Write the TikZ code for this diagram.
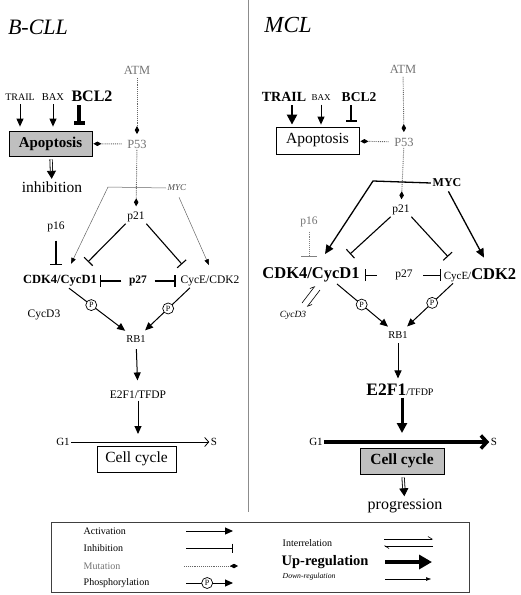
\documentclass[tikz,border=0pt]{standalone}
\usepackage{fontspec}
\setmainfont{Liberation Serif}
\usetikzlibrary{arrows.meta,positioning}
\newcommand\fsz[1]{\fontsize{#1}{#1}\selectfont}

\begin{document}
\begin{tikzpicture}[x=1pt, y=-1pt,
  every node/.style={inner sep=1.5pt, font=\fsz{11}},
  gtxt/.style={text=black!55, font=\fsz{12.5}},
  cbox/.style={draw, line width=0.8pt, inner sep=0pt},
  act/.style={line width=1pt, -{Triangle[length=8pt,width=7pt]}},
  actthin/.style={line width=0.5pt, black!60, -{Triangle[length=6pt,width=4.5pt,color=black]}},
  actmyc/.style={line width=1.3pt, -{Triangle[length=9pt,width=8pt]}},
  actbig/.style={line width=2.2pt, -{Triangle[length=10pt,width=10pt]}},
  inh/.style={line width=1.1pt, -{Bar[width=12pt]}},
  inhthick/.style={line width=1.8pt, -{Bar[width=12pt]}},
  mut/.style={densely dotted, black!60, line width=0.9pt,
              -{Diamond[length=8pt,width=4.5pt,color=black]}},
  mutinh/.style={densely dotted, black!50, line width=0.9pt, -{Bar[width=16pt]}},
  dbl/.style={double, double distance=1.6pt, line width=0.8pt,
              -{Triangle[length=8pt,width=9pt]}},
  pcirc/.style={circle, draw, fill=white, line width=0.7pt, inner sep=0.6pt,
                minimum size=11pt, font=\fsz{8}},
  harp/.style={line width=0.6pt, -{Straight Barb[harpoon,length=4pt,width=5pt]}},
  upreg/.style={line width=4pt, -{Triangle[length=13pt,width=14pt]}},
  downreg/.style={line width=0.6pt, -{Triangle[length=5pt,width=3.5pt]}},
  gsthin/.style={line width=0.8pt, -{Straight Barb[length=4pt,width=9pt]}},
  gsthick/.style={line width=3.5pt, -{Straight Barb[length=6pt,width=13pt]}},
  lgtxt/.style={anchor=west, font=\fsz{10}},
]
\useasboundingbox (0,0) rectangle (520,595);

% divider between the two panels
\coordinate (divtop) at (248,0);
\coordinate (divbot) at (248,512);
\draw[black!45, line width=0.8pt] (divtop) -- (divbot);

%%%% B-CLL
\node[font=\fsz{22}\itshape] (titlel) at (38,27) {B-CLL};
\node[gtxt] (atml) at (137,70) {ATM};
\node[gtxt] (p53l) at (137,144) {P53};
\node[font=\fsz{10}] (traill) at (20,97) {TRAIL};
\node[font=\fsz{10.5}] (baxl) at (53,97) {BAX};
\node[font=\fsz{16}\bfseries] (bcl2l) at (92,96) {BCL2};
\node[cbox, fill=black!25, minimum width=83, minimum height=25,
      font=\fsz{15}\bfseries] (apol) at (50.5,143.5) {Apoptosis};
\node[font=\fsz{15.5}] (inhibl) at (52,187) {inhibition};
\node[font=\fsz{9}\itshape, text=black!70] (mycl) at (177,188) {MYC};
\coordinate (mycbendl) at (108,187);
\node[font=\fsz{11.5}] (p21l) at (136,217) {p21};
\node[font=\fsz{11.5}] (p16l) at (56,227) {p16};
\node[font=\fsz{12.5}\bfseries] (cdk4l) at (60,281) {CDK4/CycD1};
\node[font=\fsz{11.5}\bfseries] (p27l) at (138,281) {p27};
\node[font=\fsz{11.5}] (cycel) at (210,281) {CycE/CDK2};
\node[font=\fsz{11.5}] (cycd3l) at (44,315) {CycD3};
\node[font=\fsz{10.5}] (rb1l) at (136,339) {RB1};
\node[font=\fsz{11.5}] (e2f1l) at (138,395) {E2F1/TFDP};
\node[font=\fsz{11}] (g1l) at (63,442) {G1};
\node[font=\fsz{11}] (sl) at (214,442) {S};
\node[cbox, fill=white, minimum width=79, minimum height=26,
      font=\fsz{15.5}] (ccl) at (136.5,459) {Cell cycle};

\draw[mut, shorten <=2pt, shorten >=4pt] (atml) -- (p53l);
\draw[mut, shorten <=4pt, shorten >=1pt] (p53l) -- (apol);
\draw[mut, shorten >=4pt] (p53l) -- (p21l);
\draw[act, shorten <=2pt, shorten >=4pt] (traill.south) -- (traill.south |- apol.north);
\draw[act, shorten <=2pt, shorten >=4pt] (baxl.south) -- (baxl.south |- apol.north);
\draw[line width=3.5pt, -{Bar[width=11pt]}, shorten <=2pt, shorten >=6pt]
  ([xshift=-13pt]bcl2l.south) -- ([xshift=-13pt]bcl2l.south |- apol.north);
\draw[dbl, shorten <=3pt, shorten >=1pt] (apol) -- (inhibl);
\draw[actthin] (mycl.west) -- (mycbendl) -- ([shift={(11pt,10pt)}]cdk4l.north);
\draw[actthin, shorten <=5pt] (mycl.south) -- ([shift={(-1pt,9pt)}]cycel.north);
\draw[inh] (p21l.south west) -- ([shift={(28pt,12pt)}]cdk4l.north);
\draw[inh] (p21l.south east) -- ([shift={(-28pt,10pt)}]cycel.north);
\draw[inh, shorten <=7pt] (p16l.south) -- ([yshift=9pt]p16l.south |- cdk4l.north);
\draw[inhthick, shorten <=6pt, shorten >=1pt] (p27l) -- (cdk4l);
\draw[inhthick, shorten <=6pt, shorten >=3pt] (p27l) -- (cycel);
\draw[act, shorten >=5pt] ([xshift=9pt]cdk4l.south) -- node[pcirc, pos=0.37] {P} (rb1l);
\draw[act, shorten >=5pt] ([xshift=-20pt]cycel.south) -- node[pcirc, pos=0.45] {P} (rb1l);
\draw[act, shorten <=5pt, shorten >=9pt] (rb1l) -- (e2f1l);
\draw[act, shorten >=8pt] (e2f1l) -- (e2f1l |- g1l);
\draw[gsthin] (g1l) -- (sl);

%%%% MCL
\node[font=\fsz{23}\itshape] (titler) at (288,25) {MCL};
\node[gtxt] (atmr) at (403,69) {ATM};
\node[gtxt] (p53r) at (404,142) {P53};
\node[font=\fsz{14}\bfseries] (trailr) at (284,97) {TRAIL};
\node[font=\fsz{9}] (baxr) at (321,98) {BAX};
\node[font=\fsz{13.5}\bfseries] (bcl2r) at (359,97) {BCL2};
\node[cbox, fill=white, minimum width=83, minimum height=27,
      font=\fsz{15.5}] (apor) at (317.5,140.5) {Apoptosis};
\node[font=\fsz{12}\bfseries] (mycr) at (447,183) {MYC};
\coordinate (mycbendr) at (373,181);
\node[font=\fsz{11.5}] (p21r) at (401,210) {p21};
\node[gtxt, font=\fsz{11.5}] (p16r) at (309,222) {p16};
\node[font=\fsz{16.5}\bfseries] (cdk4r) at (311,275) {CDK4/CycD1};
\node[font=\fsz{11.5}] (p27r) at (404,275) {p27};
\node (cycer) at (480,275) {\fsz{11}CycE/\fsz{16.5}\bfseries CDK2};
\node[font=\fsz{9.5}\itshape] (cycd3r) at (293,315) {CycD3};
\node[font=\fsz{10.5}] (rb1r) at (398,335) {RB1};
\node (e2f1r) at (400,390) {\fsz{17.5}\bfseries E2F1\fsz{10}\mdseries/TFDP};
\node[font=\fsz{11}] (g1r) at (316,442) {G1};
\node[font=\fsz{11}] (sr) at (494,442) {S};
\node[cbox, fill=black!25, minimum width=84, minimum height=26,
      font=\fsz{15.5}\bfseries] (ccr) at (402,461) {Cell cycle};
\node[font=\fsz{16}] (progr) at (405,506) {progression};

% interrelation arrows beside CDK4/CycD1
\coordinate (irA) at (302,303);
\coordinate (irB) at (315,286);
\coordinate (irC) at (320,290);
\coordinate (irD) at (307,307);

\draw[mut, shorten <=2pt, shorten >=4pt] (atmr) -- (p53r);
\draw[mut, shorten <=4pt, shorten >=1pt] (p53r) -- (apor);
\draw[mut, shorten >=4pt] (p53r) -- (p21r);
\draw[actbig, shorten <=2pt, shorten >=2pt] ([xshift=8pt]trailr.south) -- ([xshift=8pt]trailr.south |- apor.north);
\draw[act, shorten <=2pt, shorten >=2pt] (baxr.south) -- (baxr.south |- apor.north);
\draw[line width=1.6pt, -{Bar[width=11pt]}, shorten <=2pt, shorten >=5pt]
  ([xshift=-8pt]bcl2r.south) -- ([xshift=-8pt]bcl2r.south |- apor.north);
\draw[actmyc] (mycr.west) -- (mycbendr) -- ([shift={(14pt,12pt)}]cdk4r.north);
\draw[actmyc, shorten <=3pt] (mycr.south) -- ([shift={(4pt,9pt)}]cycer.north);
\draw[inh] (p21r.south west) -- ([shift={(39pt,12pt)}]cdk4r.north);
\draw[inh] (p21r.south east) -- ([shift={(-32pt,10pt)}]cycer.north);
\draw[mutinh, shorten <=3pt] (p16r.south) -- ([yshift=9pt]p16r.south |- cdk4r.north);
\draw[inh, line width=0.8pt, shorten <=17pt, shorten >=4pt] (p27r) -- (cdk4r);
\draw[inh, line width=0.8pt, shorten <=9pt, shorten >=1pt] (p27r) -- (cycer);
\draw[harp] (irA) -- (irB);
\draw[harp] (irC) -- (irD);
\draw[act, shorten >=5pt] ([xshift=26pt]cdk4r.south) -- node[pcirc, pos=0.45] {P} (rb1r);
\draw[act, shorten >=5pt] ([xshift=-27pt]cycer.south) -- node[pcirc, pos=0.42] {P} (rb1r);
\draw[act, shorten <=3pt, shorten >=4pt] (rb1r) -- (rb1r |- e2f1r.north);
\draw[actbig, line width=3pt, shorten >=9pt] (e2f1r.south -| ccr) -- (ccr.north |- g1r);
\draw[gsthick] (g1r) -- (sr);
\draw[dbl, shorten <=3pt, shorten >=1pt] (ccr) -- (progr);

%%%% legend
\node[draw, black!75, line width=0.9pt, minimum width=418, minimum height=70] (legend) at (260,557) {};
\node[lgtxt] (lact) at (82,531) {Activation};
\node[lgtxt] (linh) at (82,548) {Inhibition};
\node[lgtxt, gtxt, font=\fsz{10}] (lmut) at (82,566) {Mutation};
\node[lgtxt] (lphos) at (82,583) {Phosphorylation};
\node[lgtxt, font=\fsz{10}] (lint) at (281,543) {Interrelation};
\node[lgtxt, font=\fsz{14.5}\bfseries] (lup) at (280,562) {Up-regulation};
\node[lgtxt, font=\fsz{7.7}\itshape] (ldown) at (281,577) {Down-regulation};

\coordinate (actA) at (186,531);  \coordinate (actB) at (233,531);
\coordinate (inhA) at (186,548);  \coordinate (inhB) at (233,548);
\coordinate (mutA) at (184,566);  \coordinate (mutB) at (238,566);
\coordinate (phoA) at (186,583);  \coordinate (phoB) at (233,583);
\coordinate (intA) at (384,539);  \coordinate (intB) at (433,539);
\coordinate (intC) at (433,546);  \coordinate (intD) at (384,546);
\coordinate (upA) at (385,562);   \coordinate (upB) at (432,562);
\coordinate (dnA) at (385,579);   \coordinate (dnB) at (431,579);

\draw[act] (actA) -- (actB);
\draw[inh, line width=0.8pt, -{Bar[width=9pt]}] (inhA) -- (inhB);
\draw[mut] (mutA) -- (mutB);
\draw[act] (phoA) -- node[pcirc, pos=0.45] {P} (phoB);
\draw[harp] (intA) -- (intB);
\draw[harp] (intC) -- (intD);
\draw[upreg] (upA) -- (upB);
\draw[downreg] (dnA) -- (dnB);
\end{tikzpicture}
\end{document}
